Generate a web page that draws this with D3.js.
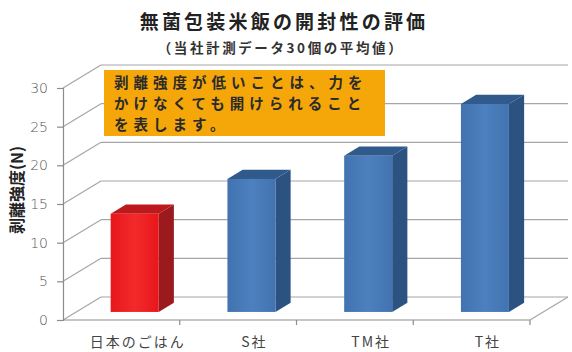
<!DOCTYPE html>
<html lang="ja">
<head>
<meta charset="UTF-8">
<title>無菌包装米飯の開封性の評価</title>
<script src="https://d3js.org/d3.v7.min.js"></script>
<style>
  body { margin: 0; background: #fff; }
  text { font-family: "Noto Sans CJK JP", "Noto Sans", sans-serif; }
</style>
</head>
<body>
<div class="canvas"></div>
<script>
  // データ
  const categories = ['日本のごはん', 'S社', 'TM社', 'T社'];
  const values = [12.7, 17.2, 20.2, 26.9];
  const barColors = ['red', 'blue', 'blue', 'blue'];
  const yTicks = [0, 5, 10, 15, 20, 25, 30];
  const noteLines = ['剥離強度が低いことは、力を', 'かけなくても開けられること', 'を表します。'];

  const width = 572, height = 352;
  const [x0, x1] = [63, 530];      // 前面の床
  const [yBottom, yTop] = [320, 88];
  const DX = 38, DY = -23;         // 奥行き
  const [f1, f2] = [0.35, 0.75];   // 棒の前後の位置

  const svg = d3.select('.canvas').append('svg')
    .attr('width', width).attr('height', height);

  const x = d3.scaleBand().domain(categories).range([x0, x1]).paddingInner(0).paddingOuter(0);
  const y = d3.scaleLinear().domain([0, 30]).range([yBottom, yTop]);
  const barW = 48;

  const palette = {
    red:  { front: '#e8161b', side: '#9a1a1e', top: '#bd181c', hi: '#f22a2a' },
    blue: { front: '#4273b0', side: '#2c5282', top: '#30598c', hi: '#4d80bf' }
  };

  const defs = svg.append('defs');
  Object.entries(palette).forEach(([k, c]) => {
    const g = defs.append('linearGradient').attr('id', 'g-' + k);
    g.append('stop').attr('offset', '0%').attr('stop-color', c.front);
    g.append('stop').attr('offset', '50%').attr('stop-color', c.hi);
    g.append('stop').attr('offset', '100%').attr('stop-color', c.front);
  });

  const grid = svg.append('g').attr('stroke', '#a6a6a6').attr('stroke-width', 1.2).attr('fill', 'none');

  // 側壁と奥壁の目盛線
  grid.selectAll('.side').data(yTicks).enter().append('line')
    .attr('x1', x0).attr('y1', d => y(d))
    .attr('x2', x0 + DX).attr('y2', d => y(d) + DY);
  grid.selectAll('.back').data(yTicks).enter().append('line')
    .attr('x1', x0 + DX).attr('y1', d => y(d) + DY)
    .attr('x2', x1 + DX).attr('y2', d => y(d) + DY);
  // 床
  grid.append('line').attr('x1', x1).attr('y1', yBottom).attr('x2', x1 + DX).attr('y2', yBottom + DY);

  // 縦軸
  const yAxisG = svg.append('g').attr('transform', `translate(${x0},0)`)
    .call(d3.axisLeft(y).tickValues(yTicks).tickSize(6).tickPadding(9));
  yAxisG.select('.domain').attr('stroke', '#8c8c8c').attr('stroke-width', 1.2);
  yAxisG.selectAll('.tick line').attr('stroke', '#8c8c8c').attr('stroke-width', 1.2);
  yAxisG.selectAll('.tick text').attr('fill', '#555').style('font-size', '14px')
    .style('font-family', '"DejaVu Sans", sans-serif').style('font-weight', 300);

  // 横軸
  const xAxisG = svg.append('g').attr('transform', `translate(0,${yBottom})`);
  xAxisG.append('line').attr('x1', x0).attr('x2', x1).attr('stroke', '#8c8c8c').attr('stroke-width', 1.2);
  const bounds = categories.map(c => x(c) + x.bandwidth());
  xAxisG.selectAll('.xt').data(bounds).enter().append('line')
    .attr('x1', d => d).attr('x2', d => d).attr('y1', 0).attr('y2', 5)
    .attr('stroke', '#8c8c8c').attr('stroke-width', 1.2);
  xAxisG.selectAll('.xl').data(categories).enter().append('text')
    .attr('x', d => x(d) + x.bandwidth() / 2 + f1 * DX + 3)
    .attr('y', 27)
    .attr('text-anchor', 'middle')
    .attr('fill', '#444')
    .style('font-size', '14px')
    .style('letter-spacing', '2px')
    .text(d => d);

  // 3D 棒
  const bars = svg.append('g').selectAll('g').data(categories).enter().append('g');
  bars.each(function (c, i) {
    const g = d3.select(this);
    const col = palette[barColors[i]];
    const left = x(c) + (x.bandwidth() - barW) / 2;
    const right = left + barW;
    const v = values[i];
    const fx = f1 * DX, fy = f1 * DY;
    const bx = f2 * DX, by = f2 * DY;
    const yb = y(0), yt = y(v);
    // 側面
    g.append('polygon').attr('fill', col.side).attr('points', [
      [right + fx, yb + fy], [right + bx, yb + by], [right + bx, yt + by], [right + fx, yt + fy]
    ].join(' '));
    // 上面
    g.append('polygon').attr('fill', col.top).attr('points', [
      [left + fx, yt + fy], [right + fx, yt + fy], [right + bx, yt + by], [left + bx, yt + by]
    ].join(' '));
    // 前面
    g.append('rect').attr('fill', `url(#g-${barColors[i]})`)
      .attr('x', left + fx).attr('y', yt + fy)
      .attr('width', barW).attr('height', yb - yt);
  });

  // 注記
  const note = svg.append('g');
  note.append('rect').attr('x', 104).attr('y', 70).attr('width', 281).attr('height', 66).attr('fill', '#f5a70a');
  note.selectAll('text').data(noteLines).enter().append('text')
    .attr('x', 114).attr('y', (d, i) => 88 + i * 21)
    .attr('fill', '#2a2a2a')
    .style('font-size', '14.5px').style('font-weight', 'bold').style('letter-spacing', '5px')
    .text(d => d);

  // タイトル
  svg.append('text').attr('x', 284).attr('y', 29).attr('text-anchor', 'middle')
    .attr('fill', '#222').style('font-size', '19px').style('font-weight', 'bold').style('letter-spacing', '3.2px')
    .text('無菌包装米飯の開封性の評価');
  svg.append('text').attr('x', 281).attr('y', 53).attr('text-anchor', 'middle')
    .attr('fill', '#333').style('font-size', '13.5px').style('font-weight', 'bold').style('letter-spacing', '2.6px')
    .text('（当社計測データ30個の平均値）');

  // 縦軸タイトル
  svg.append('text').attr('transform', 'translate(16,190) rotate(-90)')
    .attr('text-anchor', 'middle').attr('dominant-baseline', 'central')
    .attr('fill', '#222').style('font-size', '16px').style('font-weight', 'bold')
    .text('剥離強度(N)');
</script>
</body>
</html>
